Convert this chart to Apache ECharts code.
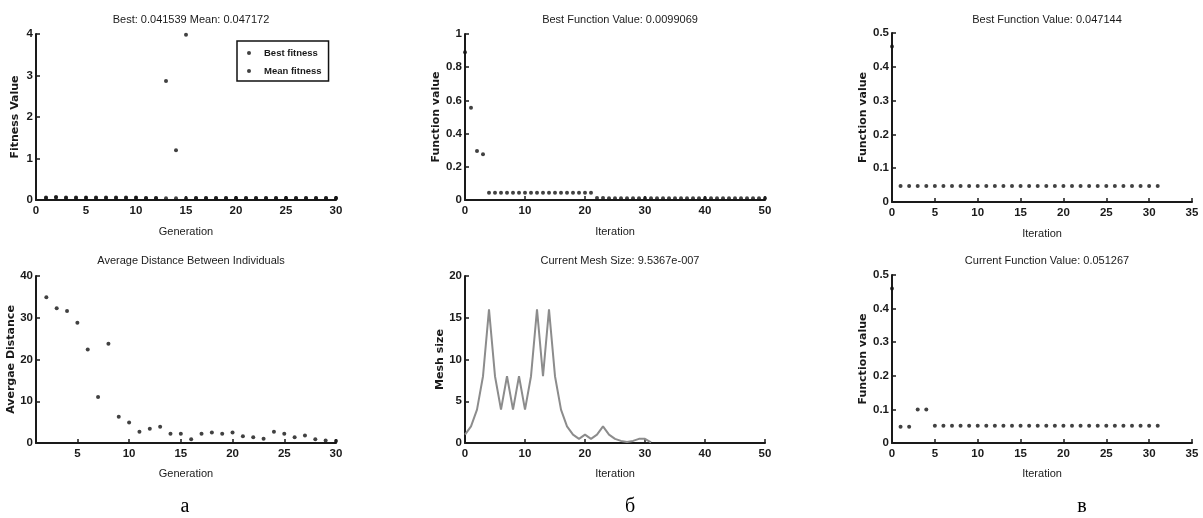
<!DOCTYPE html>
<html><head><meta charset="utf-8">
<script src="https://cdn.jsdelivr.net/npm/echarts@6/dist/echarts.min.js"></script>
<style>html,body{margin:0;padding:0;background:#fff}#c{width:1203px;height:518px}</style>
</head><body><div id="c"></div>
<script>
// ---- Panel а (top): fitness by generation
const generations = [1,2,3,4,5,6,7,8,9,10,11,12,13,14,15,16,17,18,19,20,21,22,23,24,25,26,27,28,29,30];
const bestFitness = [0.05,0.06,0.05,0.05,0.05,0.05,0.05,0.05,0.05,0.05,0.04,0.04,0.04,0.04,0.04,0.04,0.04,0.04,0.04,0.04,0.04,0.04,0.04,0.04,0.04,0.04,0.04,0.04,0.04,0.04];
const meanFitness = [0.06,0.07,0.06,0.06,0.06,0.06,0.06,0.06,0.06,0.06,0.05,0.05,2.87,1.2,3.98,0.05,0.05,0.05,0.05,0.05,0.05,0.05,0.05,0.05,0.05,0.05,0.05,0.05,0.05,0.05];
// ---- Panel а (bottom): average distance
const distGenerations = [2,3,4,5,6,7,8,9,10,11,12,13,14,15,16,17,18,19,20,21,22,23,24,25,26,27,28,29,30];
const avgDistance = [34.9,32.3,31.6,28.8,22.4,11.0,23.8,6.3,4.9,2.7,3.4,3.9,2.2,2.2,0.9,2.2,2.5,2.2,2.5,1.6,1.4,1.0,2.7,2.2,1.4,1.8,0.9,0.6,0.5];
// ---- Panel б (top): best function value
const iterB = [0,1,2,3,4,5,6,7,8,9,10,11,12,13,14,15,16,17,18,19,20,21,22,23,24,25,26,27,28,29,30,31,32,33,34,35,36,37,38,39,40,41,42,43,44,45,46,47,48,49,50];
const bestFuncB = [0.89,0.556,0.295,0.275,0.044,0.044,0.044,0.044,0.044,0.044,0.044,0.044,0.044,0.044,0.044,0.044,0.044,0.044,0.044,0.044,0.044,0.044,0.012,0.012,0.011,0.011,0.011,0.011,0.011,0.011,0.011,0.011,0.01,0.01,0.01,0.01,0.01,0.01,0.01,0.01,0.01,0.01,0.01,0.01,0.01,0.01,0.01,0.01,0.01,0.01,0.0099];
// ---- Panel б (bottom): mesh size
const iterMesh = [0,1,2,3,4,5,6,7,8,9,10,11,12,13,14,15,16,17,18,19,20,21,22,23,24,25,26,27,28,29,30,31];
const meshSize = [1,2,4,8,16,8,4,8,4,8,4,8,16,8,16,8,4,2,1,0.5,1,0.5,1,2,1,0.5,0.25,0.125,0.25,0.5,0.5,0.0625];
// ---- Panel в (top and bottom)
const iterV = [0,1,2,3,4,5,6,7,8,9,10,11,12,13,14,15,16,17,18,19,20,21,22,23,24,25,26,27,28,29,30,31];
const bestFuncV = [0.46,0.047,0.047,0.047,0.047,0.047,0.047,0.047,0.047,0.047,0.047,0.047,0.047,0.047,0.047,0.047,0.047,0.047,0.047,0.047,0.047,0.047,0.047,0.047,0.047,0.047,0.047,0.047,0.047,0.047,0.047,0.047];
const currFuncV = [0.46,0.048,0.048,0.1,0.1,0.051,0.051,0.051,0.051,0.051,0.051,0.051,0.051,0.051,0.051,0.051,0.051,0.051,0.051,0.051,0.051,0.051,0.051,0.051,0.051,0.051,0.051,0.051,0.051,0.051,0.051,0.051];
// ---- Text
const panelTitles = ['Best: 0.041539 Mean: 0.047172','Best Function Value: 0.0099069','Best Function Value: 0.047144',
  'Average Distance Between Individuals','Current Mesh Size: 9.5367e-007','Current Function Value: 0.051267'];
const xNames = ['Generation','Iteration','Iteration','Generation','Iteration','Iteration'];
const yNames = ['Fitness Value','Function value','Function value','Avergae Distance','Mesh size','Function value'];
const panelLetters = ['а','б','в'];
const legendNames = ['Best fitness','Mean fitness'];
const distTickValues = [5,10,15,20,25,30];

const pair = (xs, ys) => xs.map((x, i) => [x, ys[i]]);
const SANS = '"Liberation Sans",Arial,sans-serif';
const grids = [
  {left:36, top:34, width:300, height:166},
  {left:465, top:34, width:300, height:166},
  {left:892, top:33, width:300, height:169},
  {left:36, top:276, width:300, height:167},
  {left:465, top:276, width:300, height:167},
  {left:892, top:275, width:300, height:168}
];
const xCfg = [
  {min:0,max:30,interval:5},{min:0,max:50,interval:10},{min:0,max:35,interval:5},
  {min:1,max:30,custom:distTickValues},{min:0,max:50,interval:10},{min:0,max:35,interval:5}
];
const yCfg = [
  {min:0,max:4,interval:1},{min:0,max:1,interval:0.2},{min:0,max:0.5,interval:0.1},
  {min:0,max:40,interval:10},{min:0,max:20,interval:5},{min:0,max:0.5,interval:0.1}
];
const yGaps = [15,22,21,18,19,21];
const xGaps = [26,26,26,25,25,25];
const axisLine = {show:true, onZero:false, lineStyle:{color:'#1a1a1a', width:2}};
const tickLabel = {fontFamily:SANS, fontSize:11.5, fontWeight:'bold', color:'#1a1a1a'};

const xAxes = xCfg.map((c, i) => {
  const a = {type:'value', gridIndex:i, min:c.min, max:c.max,
    name:xNames[i], nameLocation:'middle', nameGap:xGaps[i],
    nameTextStyle:{fontFamily:SANS, fontSize:11, color:'#1a1a1a'},
    axisLine, splitLine:{show:false},
    axisTick:{show:true, inside:true, length:4, lineStyle:{color:'#1a1a1a', width:1.5}},
    axisLabel:Object.assign({margin:5}, tickLabel)};
  if (c.custom) {
    a.axisTick.customValues = c.custom;
    a.axisLabel.customValues = c.custom;
  } else a.interval = c.interval;
  return a;
});
const yAxes = yCfg.map((c, i) => ({type:'value', gridIndex:i, min:c.min, max:c.max, interval:c.interval,
  name:yNames[i], nameLocation:'middle', nameGap:yGaps[i],
  nameTextStyle:{fontFamily:'"DejaVu Sans",Verdana,sans-serif', fontSize:11, fontWeight:'bold', color:'#1a1a1a'},
  axisLine, splitLine:{show:false},
  axisTick:{show:true, inside:true, length:4, lineStyle:{color:'#1a1a1a', width:1.5}},
  axisLabel:Object.assign({margin:3}, tickLabel)}));

const dot = (name, idx, data) => ({type:'scatter', name, xAxisIndex:idx, yAxisIndex:idx, data,
  symbol:'circle', symbolSize:4, itemStyle:{color:'#111'}, silent:true});

const titleCenters = grids.map(g => g.left + g.width/2);
const titles = panelTitles.map((t, i) => ({text:t, left:titleCenters[i], top:i < 3 ? 9 : 250, textAlign:'center',
  textStyle:{fontFamily:SANS, fontSize:11, fontWeight:'normal', color:'#1a1a1a'}}));
const letterX = [180, 625, 1077];
panelLetters.forEach((l, i) => titles.push({text:l, left:letterX[i], top:492, textAlign:'center',
  textStyle:{fontFamily:'"Liberation Serif","Times New Roman",serif', fontSize:20, fontWeight:'normal', color:'#000'}}));

const chart = echarts.init(document.getElementById('c'), null, {renderer:'canvas'});
chart.setOption({
  backgroundColor:'#fff', animation:false,
  title:titles,
  grid:grids,
  xAxis:xAxes, yAxis:yAxes,
  legend:{data:legendNames, orient:'vertical', left:237, top:41, padding:[5,7,3,10], itemGap:4,
    itemWidth:20, itemHeight:4, icon:'circle', borderColor:'#111', borderWidth:1.5, backgroundColor:'#fff',
    textStyle:{fontFamily:SANS, fontSize:9.5, fontWeight:'bold', color:'#1a1a1a', lineHeight:14}},
  series:[
    dot(legendNames[0], 0, pair(generations, bestFitness)),
    dot(legendNames[1], 0, pair(generations, meanFitness)),
    dot('bestB', 1, pair(iterB, bestFuncB)),
    dot('bestV', 2, pair(iterV, bestFuncV)),
    dot('dist', 3, pair(distGenerations, avgDistance)),
    {type:'line', name:'mesh', xAxisIndex:4, yAxisIndex:4, data:pair(iterMesh, meshSize), showSymbol:false,
      lineStyle:{color:'#8c8c8c', width:2}, silent:true},
    dot('currV', 5, pair(iterV, currFuncV))
  ]
});
</script></body></html>
